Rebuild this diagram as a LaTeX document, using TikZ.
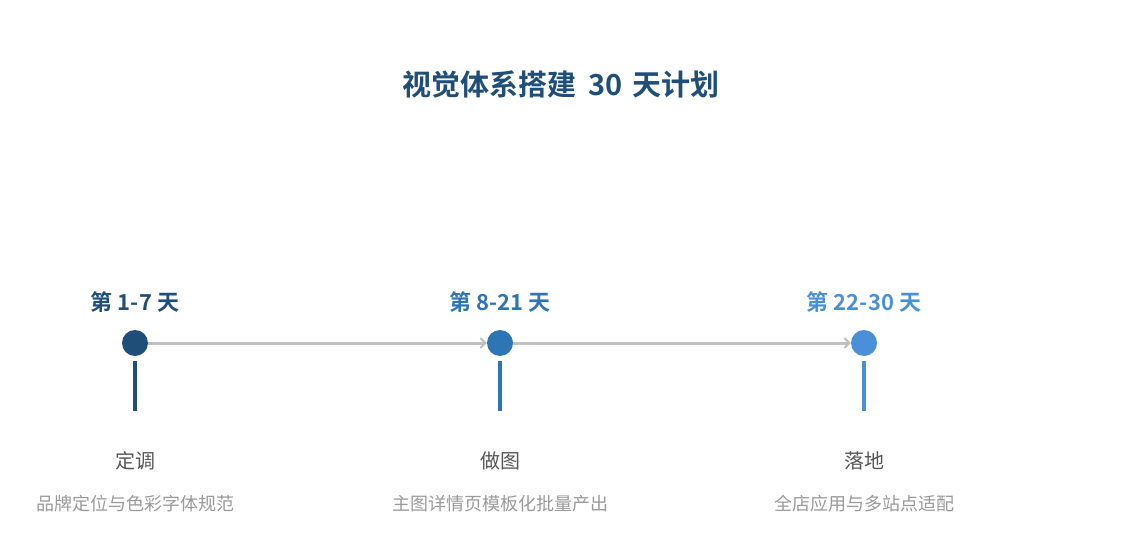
\documentclass[tikz,border=0pt]{standalone}
\usepackage{fontspec}
\setmainfont{Noto Sans CJK SC}
\newfontfamily\cjkbold{Noto Sans CJK SC Bold}
\usetikzlibrary{arrows.meta}
\definecolor{cA}{HTML}{1F4E79}
\definecolor{cB}{HTML}{2E75B6}
\definecolor{cC}{HTML}{4A90D9}
\definecolor{lineg}{HTML}{C0C0C0}
\definecolor{txtg}{HTML}{555555}
\definecolor{subg}{HTML}{999999}
\tikzset{
  dot/.style={circle,fill=#1,minimum size=26pt,inner sep=0pt},
  phase/.style={text=#1,font=\cjkbold\fontsize{22}{24}\selectfont,inner sep=0pt},
  stemline/.style={draw=#1,line width=4pt},
  stagename/.style={text=txtg,font=\fontsize{20}{22}\selectfont,inner sep=0pt},
  stagesub/.style={text=subg,font=\fontsize{18}{20}\selectfont,inner sep=0pt},
  conn/.style={draw=lineg,line width=3pt,-{Straight Barb[length=5pt,width=10pt,line width=2pt]}},
}
\begin{document}
\begin{tikzpicture}[x=1pt,y=1pt]
\useasboundingbox (0,0) rectangle (1123,555);
\node[text=cA,font=\cjkbold\fontsize{29}{32}\selectfont,inner sep=0pt] (title) at (561,471) {视觉体系搭建\hspace{6pt} 30 \hspace{3pt}天计划};
% milestones
\node[dot=cA] (d1) at (135,212) {};
\node[dot=cB] (d2) at (500,212) {};
\node[dot=cC] (d3) at (864,212) {};
\draw[conn] (d1) -- (d2);
\draw[conn] (d2) -- (d3);
\node[phase=cA] (p1) at (135,253) {第 1-7 天};
\node[phase=cB] (p2) at (500,253) {第 8-21 天};
\node[phase=cC] (p3) at (864,253) {第 22-30 天};
\coordinate (s1a) at (135,194); \coordinate (s1b) at (135,144);
\coordinate (s2a) at (500,194); \coordinate (s2b) at (500,144);
\coordinate (s3a) at (864,194); \coordinate (s3b) at (864,144);
\draw[stemline=cA] (s1a) -- (s1b);
\draw[stemline=cB] (s2a) -- (s2b);
\draw[stemline=cC] (s3a) -- (s3b);
\node[stagename] (n1) at (135,94) {定调};
\node[stagename] (n2) at (500,94) {做图};
\node[stagename] (n3) at (864,94) {落地};
\node[stagesub] (t1) at (135,51) {品牌定位与色彩字体规范};
\node[stagesub] (t2) at (500,51) {主图详情页模板化批量产出};
\node[stagesub] (t3) at (864,51) {全店应用与多站点适配};
\end{tikzpicture}
\end{document}
